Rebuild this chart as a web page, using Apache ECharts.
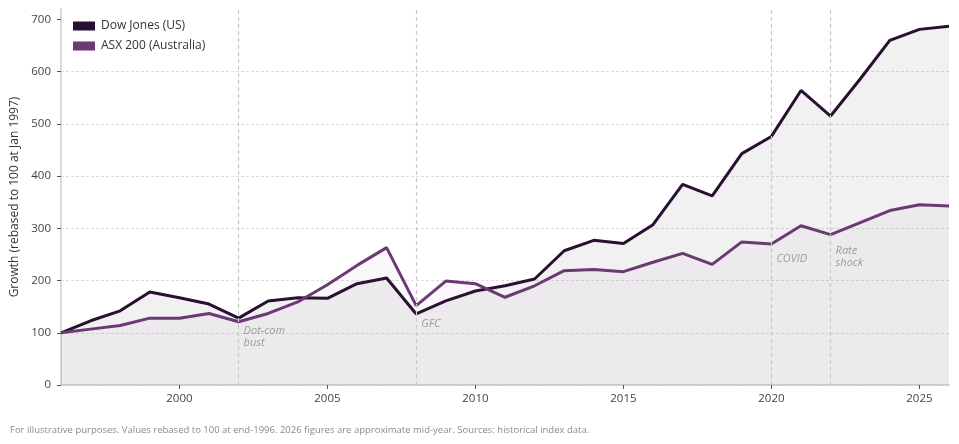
<!DOCTYPE html>
<html>
<head>
<meta charset="utf-8">
<style>
  html, body { margin: 0; padding: 0; background: #fff; }
  #chart { width: 959px; height: 444px; }
</style>
<script src="https://cdn.jsdelivr.net/npm/echarts@6/dist/echarts.min.js"></script>
</head>
<body>
<div id="chart"></div>
<script>
// yearly index values, rebased to 100 at end-1996
const years = [1996, 1997, 1998, 1999, 2000, 2001, 2002, 2003, 2004, 2005, 2006,
  2007, 2008, 2009, 2010, 2011, 2012, 2013, 2014, 2015, 2016, 2017, 2018, 2019,
  2020, 2021, 2022, 2023, 2024, 2025, 2026]
const dowJones = [100, 123, 142, 178, 167, 155, 128, 161, 167, 166, 194,
  205, 136, 161, 180, 190, 203, 257, 277, 271, 307, 384, 362, 443,
  476, 564, 515, 586, 660, 681, 687]
const asx200 = [100, 107, 114, 128, 128, 137, 121, 137, 159, 192, 229,
  263, 152, 199, 194, 168, 190, 219, 221, 217, 235, 252, 231, 274,
  270, 305, 288, 311, 334, 345, 343]

const eventYears = [2002, 2008, 2020, 2022]
const eventLabels = ['Dot-com\nbust', 'GFC', 'COVID', 'Rate\nshock']
const eventLabelY = [115, 128, 253, 268]

const xTicks = [2000, 2005, 2010, 2015, 2020, 2025]
const yTicks = [0, 100, 200, 300, 400, 500, 600, 700]

const footnote = 'For illustrative purposes. Values rebased to 100 at end-1996. 2026 figures are approximate mid-year. Sources: historical index data.'

const FONT = '"Open Sans", "Noto Sans", sans-serif'
const DOW = '#2a1030'
const ASX = '#6b3a72'

const chart = echarts.init(document.getElementById('chart'))

chart.setOption({
  animation: false,
  textStyle: { fontFamily: FONT },
  grid: { left: 61, right: 10, top: 9, bottom: 59 },
  legend: {
    orient: 'vertical',
    left: 68,
    top: 15,
    itemWidth: 22,
    itemHeight: 9,
    itemGap: 8,
    icon: 'rect',
    textStyle: { fontSize: 12, color: '#333', fontFamily: FONT, padding: [0, 0, 0, 1] },
    data: ['Dow Jones (US)', 'ASX 200 (Australia)']
  },
  xAxis: {
    type: 'value',
    min: 1996,
    max: 2026,
    axisLine: { show: true, lineStyle: { color: '#ccc', width: 1.5 } },
    axisTick: { show: true, customValues: xTicks, length: 4, lineStyle: { color: '#555' } },
    axisLabel: {
      customValues: xTicks,
      formatter: v => String(v),
      color: '#444',
      fontSize: 11.5,
      margin: 8,
      fontFamily: FONT
    },
    splitLine: { show: false }
  },
  yAxis: {
    type: 'value',
    min: 0,
    max: 720,
    name: 'Growth (rebased to 100 at Jan 1997)',
    nameLocation: 'middle',
    nameGap: 35,
    nameTextStyle: { fontSize: 12, color: '#333', fontFamily: FONT },
    axisLine: { show: true, lineStyle: { color: '#ccc', width: 1.5 } },
    axisTick: { show: true, customValues: yTicks, length: 4, lineStyle: { color: '#555' } },
    axisLabel: { customValues: yTicks, color: '#444', fontSize: 11.5, margin: 10, fontFamily: FONT },
    splitLine: {
      show: true,
      showMaxLine: false,
      lineStyle: { color: '#d4d4d4', type: [3, 2], width: 0.8 }
    }
  },
  series: [
    {
      name: 'Dow Jones (US)',
      type: 'line',
      data: years.map((y, i) => [y, dowJones[i]]),
      symbol: 'none',
      color: DOW,
      lineStyle: { width: 3, color: DOW },
      areaStyle: { color: 'rgba(60,60,60,0.1)', origin: 'start' },
      z: 3,
      markLine: {
        silent: true,
        symbol: 'none',
        label: { show: false },
        lineStyle: { color: '#c8c8c8', type: [4, 3], width: 1.2 },
        data: eventYears.map(y => ({ xAxis: y }))
      }
    },
    {
      name: 'ASX 200 (Australia)',
      type: 'line',
      data: years.map((y, i) => [y, asx200[i]]),
      symbol: 'none',
      color: ASX,
      lineStyle: { width: 3, color: ASX },
      areaStyle: { color: 'rgba(107,58,114,0.05)', origin: 'start' },
      z: 4
    },
    {
      name: 'events',
      type: 'scatter',
      symbolSize: 0,
      silent: true,
      data: eventYears.map((y, i) => ({ value: [y, eventLabelY[i]], name: eventLabels[i] })),
      label: {
        show: true,
        position: [5, 0],
        align: 'left',
        verticalAlign: 'top',
        formatter: p => p.name,
        fontStyle: 'italic',
        fontSize: 11,
        lineHeight: 12,
        color: '#8a8a8a',
        fontFamily: FONT
      },
      z: 5
    }
  ],
  graphic: [
    {
      type: 'text',
      left: 10,
      top: 425,
      style: { text: footnote, fontSize: 9.5, fill: '#8a8a8a', fontFamily: FONT }
    }
  ]
})
</script>
</body>
</html>
